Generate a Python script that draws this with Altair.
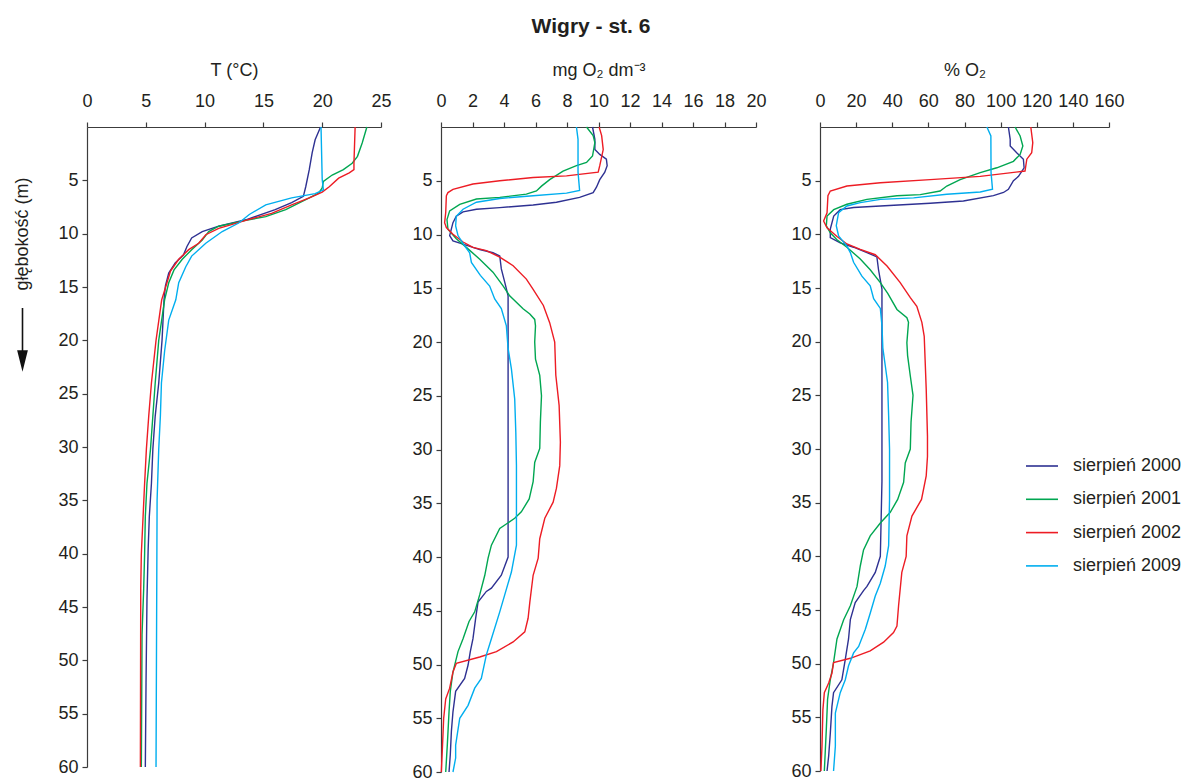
import altair as alt
import pandas as pd

FONT = "Liberation Sans"
TXT = "#231f20"
AX = "#3c3c3c"

SERIES = ["sierpień 2000", "sierpień 2001", "sierpień 2002", "sierpień 2009"]
COLORS = ["#2e3192", "#00a651", "#ed1c24", "#00aeef"]

# ---------------- Temperature (°C) ----------------
T_2000_d = [0, 1.2, 2.4, 4, 5.6, 6.5, 7.1, 7.75, 8.7, 9.3, 9.8, 10.4, 11.2, 12.0, 12.75, 13.7, 14.9, 16.2, 20, 24, 27.1, 30.2, 33.4, 36.5, 39.6, 44.3, 52.1, 60]
T_2000_v = [19.86, 19.4, 19.15, 18.9, 18.6, 18.4, 17.4, 16.0, 13.5, 11.2, 9.8, 8.9, 8.5, 8.2, 7.5, 6.95, 6.67, 6.55, 6.38, 6.1, 5.8, 5.6, 5.48, 5.3, 5.2, 5.1, 5.02, 4.96]

T_2001_d = [0, 1.5, 2.75, 3.4, 4.0, 4.5, 5.1, 5.7, 6.2, 6.8, 7.75, 8.4, 8.75, 9.3, 9.8, 10.6, 11.5, 12.4, 13.4, 14.6, 16.2, 20, 24, 27.1, 30.2, 33.4, 36.5, 40, 43.3, 47.6, 60]
T_2001_v = [23.8, 23.4, 23.0, 22.55, 21.8, 20.85, 20.1, 20.0, 19.7, 18.6, 16.9, 15.2, 13.5, 11.2, 10.35, 9.8, 8.9, 8.1, 7.4, 6.95, 6.6, 6.1, 5.8, 5.6, 5.4, 5.1, 4.96, 4.9, 4.82, 4.68, 4.62]

T_2002_d = [0, 3.4, 4.0, 4.3, 4.8, 5.6, 6.1, 6.65, 7.3, 8.1, 8.75, 9.5, 10.1, 10.9, 11.5, 12.4, 13.5, 14.6, 16.2, 20, 24, 27.1, 30.2, 33.4, 36.5, 40, 43.3, 60]
T_2002_v = [22.8, 22.7, 22.7, 22.3, 21.4, 20.6, 20.0, 18.9, 17.4, 15.7, 13.5, 11.2, 10.1, 9.5, 8.65, 7.8, 7.1, 6.8, 6.35, 5.87, 5.48, 5.25, 5.05, 4.9, 4.77, 4.62, 4.57, 4.54]

T_2009_d = [0, 4.9, 5.9, 6.25, 6.65, 7.3, 8.2, 9.0, 9.8, 10.9, 12.1, 13.1, 14.6, 16.2, 18.1, 21, 24, 27.1, 30.2, 35, 60]
T_2009_v = [19.9, 20.0, 20.1, 19.4, 17.4, 15.2, 13.8, 12.9, 11.5, 10.1, 8.9, 8.4, 7.8, 7.55, 6.95, 6.6, 6.33, 6.24, 6.1, 5.96, 5.87]

# ---------------- Oxygen (mg O2 dm-3) ----------------
O_2000_d = [0, 1.15, 2.1, 2.55, 3.0, 3.6, 4.2, 4.9, 5.6, 6.1, 6.55, 7.0, 7.25, 7.5, 7.65, 7.9, 8.3, 8.9, 10.1, 10.6, 10.9, 11.4, 11.7, 12.0, 13.2, 14.45, 15.7, 40.0, 41.7, 42.9, 43.2, 44.2, 45.7, 47.6, 48.8, 50.05, 51.3, 52.5, 54.4, 56.2, 58.4, 60]
O_2000_v = [9.62, 9.77, 9.77, 10.08, 10.5, 10.55, 10.4, 10.08, 9.87, 9.66, 8.8, 7.33, 5.85, 3.73, 2.25, 1.4, 0.97, 0.76, 0.55, 0.76, 1.4, 2.46, 3.3, 3.73, 3.83, 4.05, 4.26, 4.26, 3.83, 3.2, 2.88, 2.35, 2.2, 2.03, 1.86, 1.72, 1.5, 0.93, 0.76, 0.66, 0.59, 0.51]

O_2001_d = [0, 0.8, 1.45, 2.7, 3.3, 3.6, 4.1, 4.9, 5.5, 5.95, 6.25, 6.55, 6.7, 7.2, 7.8, 8.6, 9.5, 10.4, 11.2, 12.3, 13.5, 14.8, 15.7, 16.9, 17.4, 17.9, 18.5, 20.0, 21.6, 23.1, 25.0, 27.45, 29.9, 31.2, 33.0, 34.6, 35.8, 36.4, 37.35, 38.9, 40.1, 41.7, 43.5, 45.1, 46.0, 47.6, 48.8, 50.7, 52.5, 54.4, 57.5, 60]
O_2001_v = [9.24, 9.66, 9.77, 9.62, 9.24, 8.6, 7.75, 6.9, 6.38, 6.06, 5.42, 3.73, 2.25, 1.19, 0.55, 0.38, 0.44, 0.97, 1.61, 2.46, 3.3, 3.95, 4.36, 5.21, 5.64, 5.95, 6.0, 5.95, 6.0, 6.27, 6.38, 6.31, 6.27, 5.95, 5.85, 5.6, 5.1, 4.68, 3.73, 3.2, 2.99, 2.78, 2.46, 2.14, 1.78, 1.4, 1.08, 0.76, 0.59, 0.51, 0.40, 0.30]

O_2002_d = [0, 0.8, 2.1, 3.6, 4.2, 4.55, 4.7, 5.0, 5.3, 5.8, 6.1, 6.4, 7.96, 8.9, 9.35, 9.97, 10.7, 11.2, 11.5, 12.1, 12.9, 14.15, 15.1, 16.6, 18.2, 20.0, 23.1, 25.9, 29.3, 31.5, 33.6, 34.9, 36.4, 38.3, 40.1, 41.7, 44.2, 45.7, 46.96, 47.9, 48.8, 49.3, 49.9, 50.7, 52.2, 53.2, 55.0, 58.1, 60]
O_2002_v = [10.04, 10.2, 10.3, 10.08, 9.98, 7.97, 5.85, 3.73, 2.03, 0.76, 0.44, 0.34, 0.30, 0.23, 0.34, 0.76, 1.4, 2.03, 2.88, 3.73, 4.58, 5.42, 5.85, 6.5, 6.9, 7.22, 7.29, 7.5, 7.58, 7.54, 7.33, 7.12, 6.59, 6.27, 6.17, 5.85, 5.64, 5.53, 5.32, 4.58, 3.52, 2.46, 0.97, 0.76, 0.55, 0.30, 0.17, 0.08, 0.02]

O_2009_d = [0, 1.15, 4.2, 5.9, 6.15, 6.4, 6.65, 7.0, 7.65, 8.3, 9.2, 10.1, 11.05, 11.7, 12.6, 13.8, 14.8, 16.0, 16.9, 18.5, 20.6, 22.5, 25.3, 28.4, 31.5, 38.9, 41.4, 43.5, 45.1, 47.6, 49.1, 51.3, 52.2, 53.8, 55.0, 57.5, 58.7, 60]
O_2009_v = [8.6, 8.7, 8.7, 8.8, 7.97, 5.85, 3.73, 2.25, 1.4, 0.97, 0.93, 1.08, 1.5, 1.82, 1.93, 2.5, 3.09, 3.41, 3.83, 4.15, 4.26, 4.47, 4.68, 4.75, 4.79, 4.79, 4.47, 4.05, 3.73, 3.2, 2.88, 2.56, 2.14, 1.72, 1.19, 0.93, 0.93, 0.76]

# ---------------- Saturation (% O2) ----------------
S_2000_d = [0, 1.15, 1.77, 2.4, 3.0, 3.8, 4.6, 5.0, 5.8, 6.1, 6.4, 6.9, 7.1, 7.36, 7.5, 7.7, 8.3, 9.5, 10.3, 10.8, 11.2, 11.7, 12.1, 13.3, 15.1, 33, 40.0, 41.5, 42.8, 43.2, 44.3, 45.9, 47.7, 49.6, 51.5, 52.7, 54.0, 56.5, 58.6, 60]
S_2000_v = [104.3, 105.3, 105.3, 108.9, 112.6, 113, 109.9, 107.1, 104.3, 101.6, 96, 79.4, 61, 33.4, 18.6, 11.2, 7.6, 5.7, 5.7, 11.2, 18.6, 26, 31.5, 32.4, 34.3, 34.3, 33.4, 30.6, 26, 24.1, 19.5, 16.8, 15.8, 14.0, 12.1, 7.5, 6.6, 5.7, 4.8, 3.9]

S_2001_d = [0, 0.84, 1.77, 2.55, 3.2, 3.8, 4.25, 4.9, 5.5, 5.96, 6.3, 6.4, 6.74, 7.2, 7.7, 8.3, 9.2, 9.85, 10.5, 11.2, 12.3, 13.3, 14.5, 15.5, 17.0, 17.77, 18.2, 20.1, 21.3, 23.2, 25.0, 27.5, 30.0, 31.3, 33.1, 34.7, 35.9, 36.9, 38.1, 39.4, 40.9, 42.8, 44.6, 45.9, 47.7, 49.9, 51.5, 53.3, 56.1, 60]
S_2001_v = [108, 110.8, 112.3, 110.8, 107.1, 97.9, 88.7, 77.6, 70.2, 66.5, 55.5, 42.6, 26.0, 14.9, 7.6, 3.9, 3.5, 5.7, 9.4, 14.9, 22.3, 27.8, 33.4, 37.5, 42.6, 48.1, 49.0, 48.1, 48.5, 50, 51.5, 50.4, 50, 47.2, 46.3, 43.0, 38.9, 33.4, 27.8, 24.1, 22.3, 20.5, 16.8, 13.1, 9.4, 7.5, 5.7, 4.2, 3.5, 2.4]

S_2002_d = [0, 1.46, 2.4, 3.0, 4.1, 4.6, 4.9, 5.2, 5.5, 5.96, 6.4, 8.0, 8.76, 9.4, 10.2, 10.9, 11.4, 11.9, 12.95, 14.5, 15.9, 16.7, 18.2, 19.5, 21.7, 24.4, 28.8, 30.7, 32.5, 34.7, 36.25, 38.1, 40.0, 41.5, 44.6, 46.5, 47.1, 48.0, 48.8, 49.5, 49.9, 50.9, 51.8, 52.7, 54.3, 57.7, 60]
S_2002_v = [116.7, 117.8, 117.2, 114.5, 113.5, 88.7, 61, 33.4, 14.9, 5.7, 4.4, 3.9, 2.0, 3.9, 9.4, 14.9, 22.3, 30.6, 37.1, 44.4, 50, 53.6, 56.4, 57.7, 58.2, 58.8, 59.5, 59.5, 58.8, 56.2, 50.9, 48.1, 47.7, 45.3, 43.5, 42.6, 40.7, 35.2, 27.8, 16.8, 7.5, 6.6, 4.8, 2.4, 1.6, 1.1, 0.5]

S_2009_d = [0, 0.84, 4.25, 5.8, 6.05, 6.27, 6.6, 6.74, 7.05, 7.36, 7.98, 9.2, 10.15, 11.1, 11.7, 12.6, 13.9, 14.8, 16.0, 16.9, 18.5, 20.6, 22.2, 23.8, 26.9, 30.0, 34.7, 39.0, 40.9, 42.5, 43.7, 45.3, 46.8, 48.4, 49.0, 50.2, 51.5, 52.7, 54.6, 57.7, 60]
S_2009_v = [92.4, 94.6, 94.7, 95.5, 88.7, 70.2, 51.8, 33.4, 22.3, 14.9, 10.3, 9.0, 10.3, 14.9, 16.8, 18.6, 23.2, 27.8, 29.7, 33.4, 34.3, 34.8, 36.1, 37.4, 38, 38.5, 38.5, 38, 36.1, 33.4, 30.6, 27.8, 25.1, 21.4, 18.6, 15.8, 14.0, 11.2, 8.5, 8.5, 7.5]

DEPTH_TICKS = list(range(5, 61, 5))
T_TICKS = [0, 5, 10, 15, 20, 25]
O_TICKS = [0, 2, 4, 6, 8, 10, 12, 14, 16, 18, 20]
S_TICKS = [0, 20, 40, 60, 80, 100, 120, 140, 160]


def frame(pairs):
    rows = []
    for name, ds, vs in zip(SERIES, pairs[0::2], pairs[1::2]):
        for i, (d, v) in enumerate(zip(ds, vs)):
            rows.append({"series": name, "depth": d, "value": v, "i": i})
    return pd.DataFrame(rows)


df_T = frame([T_2000_d, T_2000_v, T_2001_d, T_2001_v, T_2002_d, T_2002_v, T_2009_d, T_2009_v])
df_O = frame([O_2000_d, O_2000_v, O_2001_d, O_2001_v, O_2002_d, O_2002_v, O_2009_d, O_2009_v])
df_S = frame([S_2000_d, S_2000_v, S_2001_d, S_2001_v, S_2002_d, S_2002_v, S_2009_d, S_2009_v])


def lines(df, xmax, ticks, xtitle, width, height, legend=None):
    x = alt.X("value:Q",
              scale=alt.Scale(domain=[0, xmax], nice=False, zero=True),
              axis=alt.Axis(orient="top", values=ticks, title=xtitle, format="d",
                            labelPadding=12, titlePadding=13, labelFlush=False,
                            labelOverlap=False))
    y = alt.Y("depth:Q",
              scale=alt.Scale(domain=[0, 60], reverse=True, nice=False),
              axis=alt.Axis(orient="left", values=DEPTH_TICKS, title=None,
                            labelPadding=4, labelFlush=False, labelOverlap=False))
    color = alt.Color("series:N", scale=alt.Scale(domain=SERIES, range=COLORS),
                      legend=legend)
    return alt.Chart(df).mark_line(strokeWidth=1.4, clip=False).encode(
        x=x, y=y, color=color, order="i:Q"
    ).properties(width=width, height=height)


one = pd.DataFrame({"k": [0]})

ytitle = alt.Chart(one).mark_text(
    text="głębokość (m)", angle=270, font=FONT, fontSize=18, color=TXT,
    align="center", baseline="middle"
).encode(x=alt.value(-64), y=alt.value(107))

arrow_shaft = alt.Chart(one).mark_rule(color="#111", strokeWidth=1.6).encode(
    x=alt.value(-64.5), y=alt.value(181), y2=alt.value(226)
)
arrow_head = alt.Chart(one).mark_point(
    shape="M-0.5,-1L0.5,-1L0,1Z", filled=True, color="#111", opacity=1, size=460
).encode(x=alt.value(-64.5), y=alt.value(234))

p1 = alt.layer(
    lines(df_T, 25, T_TICKS, "T (°C)", 294, 640),
    ytitle, arrow_shaft, arrow_head,
)
p2 = lines(df_O, 20, O_TICKS, "mg O₂ dm⁻³", 315, 645)
p3 = lines(df_S, 160, S_TICKS, "% O₂", 289, 644,
           legend=alt.Legend(orient="none", legendX=205, legendY=322, title=None,
                             symbolType="stroke", symbolSize=1024,
                             symbolStrokeWidth=1.6, labelFont=FONT,
                             labelFontSize=18, labelColor=TXT, labelOffset=14,
                             rowPadding=7.3, padding=0))

chart = alt.hconcat(
    alt.hconcat(p1, p2, spacing=19), p3, spacing=23
).resolve_legend(
    color="independent"
).properties(
    title=alt.Title("Wigry - st. 6", fontSize=21, fontWeight="bold", font=FONT,
                    color=TXT, anchor="middle", offset=24, dx=-7),
    padding={"left": 14, "top": 16, "right": 0, "bottom": 0},
).configure_view(stroke=None).configure_axis(
    labelFont=FONT, titleFont=FONT, labelFontSize=18, titleFontSize=18,
    titleFontWeight="normal", labelColor=TXT, titleColor=TXT,
    domainColor=AX, tickColor=AX, tickSize=5, grid=False, domainWidth=1.2,
    tickWidth=1.2,
)

chart.save("out.html", embed_options={"renderer": "svg", "actions": False})
